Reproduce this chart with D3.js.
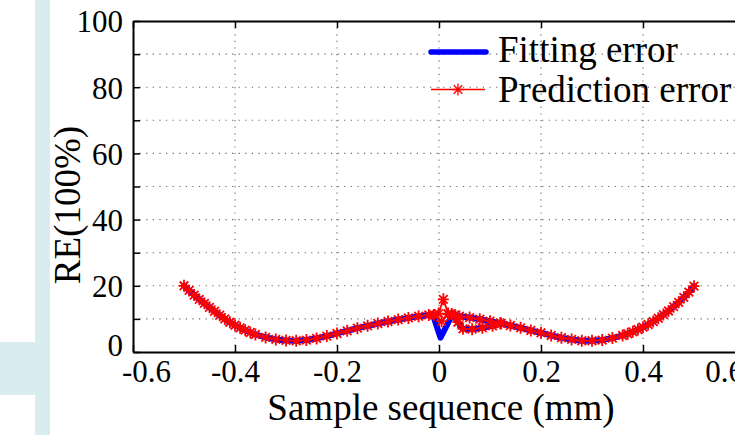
<!DOCTYPE html>
<html>
<head>
<meta charset="utf-8">
<script src="https://cdn.jsdelivr.net/npm/d3@7/dist/d3.min.js"></script>
<style>
  html, body { margin: 0; padding: 0; background: #ffffff; }
  svg { display: block; }
  text { font-family: "Liberation Serif", "Times New Roman", serif; fill: #000; }
</style>
</head>
<body>
<svg id="chart" width="735" height="435"></svg>
<script>
// ---------------- data ----------------
const xTickValues = [-0.6, -0.4, -0.2, 0, 0.2, 0.4, 0.6];
const xTickLabels = ["-0.6", "-0.4", "-0.2", "0", "0.2", "0.4", "0.6"];
const yTickValues = [0, 20, 40, 60, 80, 100];
const yTickLabels = ["0", "20", "40", "60", "80", "100"];
const yMinorTicks = [10, 30, 50, 70, 90];
const xGridValues = [-0.4, -0.2, 0, 0.2, 0.4];
const yGridValues = [10, 20, 30, 40, 50, 60, 70, 80, 90];

const seriesNames = ["Fitting error", "Prediction error"];

// Fitting error (null separates line segments)
const fitX = [
  -0.50, -0.49, -0.48, -0.47, -0.46, -0.45, -0.44, -0.43, -0.42, -0.41, -0.40, -0.39, -0.38, -0.37,
  -0.36, -0.34, -0.32, -0.30, -0.28, -0.26, -0.24, -0.22, -0.20, -0.18, -0.16, -0.14, -0.12, -0.10,
  -0.08, -0.06, -0.04, -0.02, -0.012, 0.003, 0.027,
  0.04, 0.06, 0.08, 0.10, 0.12, 0.14, 0.16, 0.18, 0.20, 0.22, 0.24, 0.26, 0.28, 0.30, 0.32, 0.34,
  0.36, 0.37, 0.38, 0.39, 0.40, 0.41, 0.42, 0.43, 0.44, 0.45, 0.46, 0.47, 0.48, 0.49, 0.50,
  null,
  0.027, 0.037, 0.047, 0.065, 0.085, 0.105, 0.122
];
const fitRE = [
  20.0, 18.6, 17.2, 15.9, 14.7, 13.5, 12.3, 11.1, 10.0, 9.0, 8.1, 7.3, 6.6, 5.9,
  5.3, 4.4, 3.8, 3.5, 3.4, 3.6, 4.1, 4.8, 5.6, 6.4, 7.2, 7.9, 8.6, 9.2,
  9.8, 10.3, 10.8, 11.2, 11.3, 4.3, 11.6,
  10.8, 10.4, 9.9, 9.3, 8.7, 8.0, 7.3, 6.5, 5.8, 5.0, 4.3, 3.8, 3.4, 3.4, 3.6, 4.2,
  5.0, 5.5, 6.1, 6.8, 7.5, 8.3, 9.2, 10.2, 11.3, 12.4, 13.7, 15.0, 16.5, 18.1, 19.9,
  null,
  11.6, 9.0, 7.0, 6.9, 7.3, 7.9, 8.6
];

// Prediction error (null separates line segments)
const predX = [
  -0.50, -0.49, -0.48, -0.47, -0.46, -0.45, -0.44, -0.43, -0.42, -0.41, -0.40, -0.39, -0.38, -0.37,
  -0.36, -0.34, -0.32, -0.30, -0.28, -0.26, -0.24, -0.22, -0.20, -0.18, -0.16, -0.14, -0.12, -0.10,
  -0.08, -0.06, -0.04, -0.02, -0.01, 0.005, 0.018, 0.03,
  0.04, 0.06, 0.08, 0.10, 0.12, 0.14, 0.16, 0.18, 0.20, 0.22, 0.24, 0.26, 0.28, 0.30, 0.32, 0.34,
  0.36, 0.37, 0.38, 0.39, 0.40, 0.41, 0.42, 0.43, 0.44, 0.45, 0.46, 0.47, 0.48, 0.49, 0.50,
  null,
  -0.001, 0.0085, 0.018,
  null,
  0.025, 0.037, 0.047, 0.065, 0.085, 0.105, 0.122
];
const predRE = [
  20.0, 18.6, 17.2, 15.9, 14.7, 13.5, 12.3, 11.1, 10.0, 9.0, 8.1, 7.3, 6.6, 5.9,
  5.3, 4.4, 3.8, 3.5, 3.4, 3.6, 4.1, 4.8, 5.6, 6.4, 7.2, 7.9, 8.6, 9.2,
  9.8, 10.3, 10.8, 11.2, 11.2, 9.3, 11.4, 11.1,
  10.8, 10.4, 9.9, 9.3, 8.7, 8.0, 7.3, 6.5, 5.8, 5.0, 4.3, 3.8, 3.4, 3.4, 3.6, 4.2,
  5.0, 5.5, 6.1, 6.8, 7.5, 8.3, 9.2, 10.2, 11.3, 12.4, 13.7, 15.0, 16.5, 18.1, 19.9,
  null,
  11.6, 15.9, 11.6,
  null,
  11.5, 9.0, 7.0, 6.9, 7.3, 7.9, 8.6
];

// ---------------- drawing ----------------
const W = 735, H = 435;
const plot = { left: 133, right: 745, top: 21, bottom: 352 };
const svg = d3.select("#chart");

// decorative light-blue bands
svg.append("rect").attr("x", 35).attr("y", 0).attr("width", 15).attr("height", H).attr("fill", "#d9ecef");
svg.append("rect").attr("x", 0).attr("y", 342).attr("width", 35).attr("height", 53).attr("fill", "#d9ecef");

const x = d3.scaleLinear().domain([-0.6, 0.6]).range([plot.left, plot.right]);
const y = d3.scaleLinear().domain([0, 100]).range([plot.bottom, plot.top]);

// plot background
svg.append("rect").attr("x", plot.left).attr("y", plot.top)
  .attr("width", plot.right - plot.left).attr("height", plot.bottom - plot.top).attr("fill", "#fff");

// grid
const grid = svg.append("g").attr("stroke", "#666").attr("stroke-width", 1.1)
  .attr("stroke-dasharray", "1.2,5.4").attr("fill", "none");
grid.selectAll("line.gy").data(yGridValues).join("line").attr("class", "gy")
  .attr("x1", plot.left).attr("x2", plot.right)
  .attr("y1", d => y(d)).attr("y2", d => y(d));
grid.selectAll("line.gx").data(xGridValues).join("line").attr("class", "gx")
  .attr("y1", plot.top).attr("y2", plot.bottom)
  .attr("x1", d => x(d)).attr("x2", d => x(d));

// axes via d3 axis generators, ticks drawn inward
const fmtX = d => xTickLabels[xTickValues.indexOf(d)];
const fmtY = d => { const i = yTickValues.indexOf(d); return i >= 0 ? yTickLabels[i] : ""; };
const allYTicks = yTickValues.concat(yMinorTicks).sort((a, b) => a - b);

const xAxisB = d3.axisBottom(x).tickValues(xTickValues).tickFormat(fmtX).tickSizeInner(-7).tickSizeOuter(0).tickPadding(8);
const xAxisT = d3.axisTop(x).tickValues(xTickValues).tickFormat("").tickSizeInner(-7).tickSizeOuter(0);
const yAxisL = d3.axisLeft(y).tickValues(allYTicks).tickFormat(fmtY).tickSizeInner(-7).tickSizeOuter(0).tickPadding(10);

const gxB = svg.append("g").attr("transform", `translate(0,${plot.bottom})`).call(xAxisB);
const gxT = svg.append("g").attr("transform", `translate(0,${plot.top})`).call(xAxisT);
const gyL = svg.append("g").attr("transform", `translate(${plot.left},0)`).call(yAxisL);

[gxB, gxT, gyL].forEach(g => {
  g.select(".domain").attr("stroke", "#000").attr("stroke-width", 2);
  g.selectAll(".tick line").attr("stroke", "#000").attr("stroke-width", 1.5);
  g.selectAll(".tick text").attr("font-family", "Liberation Serif, serif").attr("font-size", 31).attr("fill", "#000");
});
gxB.selectAll(".tick text").attr("dy", "0.71em");
gxB.selectAll(".tick").filter(d => d === -0.6).select("text").attr("dx", 13);
gxB.selectAll(".tick").filter(d => d === 0.6).select("text").attr("dx", -21);
gyL.selectAll(".tick text").attr("dy", "0.35em");
gyL.selectAll(".tick").filter(d => d === 0).select("text").attr("dy", "0.12em");

// axis titles
svg.append("text").attr("x", x(0) + 2).attr("y", 420).attr("text-anchor", "middle")
  .attr("font-size", 37).text("Sample sequence (mm)");
svg.append("text").attr("transform", "translate(80,205) rotate(-90)").attr("text-anchor", "middle")
  .attr("font-size", 37).text("RE(100%)");

// series
const fitData = fitX.map((v, i) => ({ x: v, v: fitRE[i] }));
const predData = predX.map((v, i) => ({ x: v, v: predRE[i] }));
const line = d3.line().defined(d => d.x !== null && d.v !== null).x(d => x(d.x)).y(d => y(d.v));

svg.append("path").datum(fitData).attr("d", line).attr("fill", "none")
  .attr("stroke", "#0000ff").attr("stroke-width", 6).attr("stroke-linejoin", "round").attr("stroke-linecap", "round");

svg.append("path").datum(predData).attr("d", line).attr("fill", "none")
  .attr("stroke", "#ff0000").attr("stroke-width", 1.8).attr("stroke-linejoin", "round");

const star = "M0,-6V6M-5.5,0H5.5M-4.3,-4.3L4.3,4.3M-4.3,4.3L4.3,-4.3";
svg.append("g").selectAll("path").data(predData.filter(d => d.x !== null)).join("path")
  .attr("transform", d => `translate(${x(d.x)},${y(d.v)})`)
  .attr("d", star).attr("fill", "none").attr("stroke", "#ff0000").attr("stroke-width", 1.8);

// legend
const lg = svg.append("g");
lg.append("line").attr("x1", 431).attr("x2", 486).attr("y1", 52).attr("y2", 52)
  .attr("stroke", "#0000ff").attr("stroke-width", 5.5).attr("stroke-linecap", "round");
lg.append("line").attr("x1", 431).attr("x2", 485).attr("y1", 89.5).attr("y2", 89.5)
  .attr("stroke", "#ff0000").attr("stroke-width", 1.3);
lg.append("path").attr("transform", "translate(458,89.5)").attr("d", star)
  .attr("fill", "none").attr("stroke", "#ff0000").attr("stroke-width", 1.3);
lg.append("text").attr("x", 498).attr("y", 62).attr("font-size", 37).text(seriesNames[0]);
lg.append("text").attr("x", 498).attr("y", 102).attr("font-size", 37).text(seriesNames[1]);
</script>
</body>
</html>
